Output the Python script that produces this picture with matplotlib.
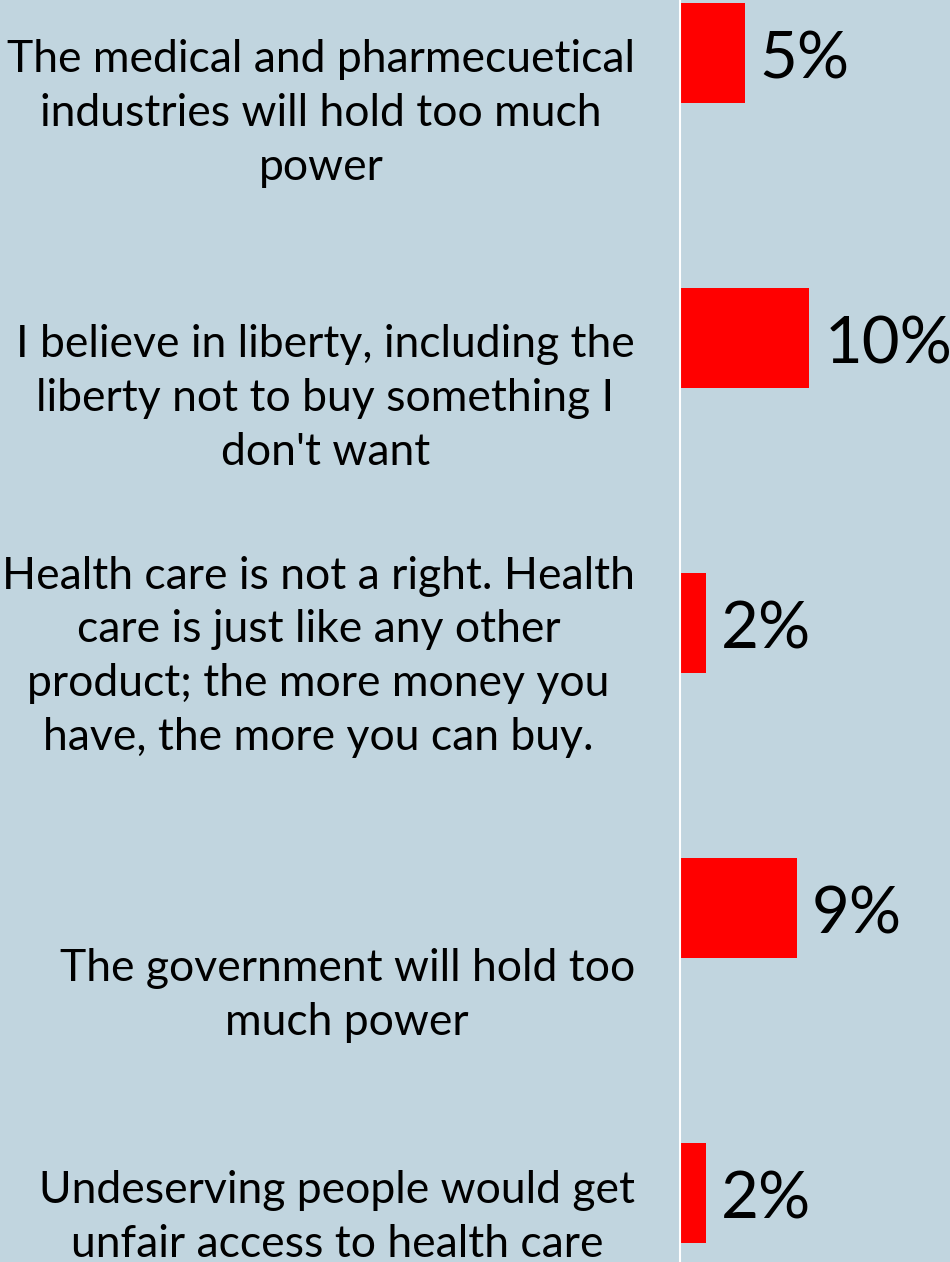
import matplotlib
matplotlib.use("Agg")
import matplotlib.pyplot as plt

# survey answers (reasons against), percent
reasons = [
    "The medical and pharmecuetical\nindustries will hold too much\npower",
    "I believe in liberty, including the\nliberty not to buy something I\ndon't want",
    "Health care is not a right. Health\ncare is just like any other\nproduct; the more money you\nhave, the more you can buy.",
    "The government will hold too\nmuch power",
    "Undeserving people would get\nunfair access to health care",
]
shares = [5, 10, 2, 9, 2]
share_labels = ["5%", "10%", "2%", "9%", "2%"]

bg = "#c1d5df"
plt.rcParams['font.family'] = ['Lato', 'DejaVu Sans']

fig = plt.figure(figsize=(9.5, 12.62), dpi=100, facecolor=bg)
ax = fig.add_axes([680/950, 0, 270/950, 1])
ax.set_facecolor(bg)

ypos = list(range(len(reasons)))
ax.barh(ypos, shares, height=0.35, color="#ff0000", left=0)
ax.set_xlim(0, 20.85)
ylo, yhi = 4.242, -0.186
ax.set_ylim(ylo, yhi)

for y, v, lab in zip(ypos, shares, share_labels):
    ax.text(v + 1.15, y + 0.025, lab, fontsize=47, va="center", ha="left", color="black")

# category labels sit at the bottom of their band, kept inside the figure
tr = ax.get_yaxis_transform()
for y, txt in zip(ypos, reasons):
    yb = min(y + 0.472, ylo + 0.01)
    ax.text(-0.167, yb, txt, transform=tr, ha="right", va="bottom",
            multialignment="center", fontsize=32, linespacing=1.38, color="black",
            clip_on=False)

for s in ["top", "right", "bottom"]:
    ax.spines[s].set_visible(False)
ax.spines["left"].set_color("white")
ax.spines["left"].set_linewidth(1.5)
ax.set_xticks([])
ax.set_yticks([])

fig.savefig("out.png", dpi=100, facecolor=bg)
